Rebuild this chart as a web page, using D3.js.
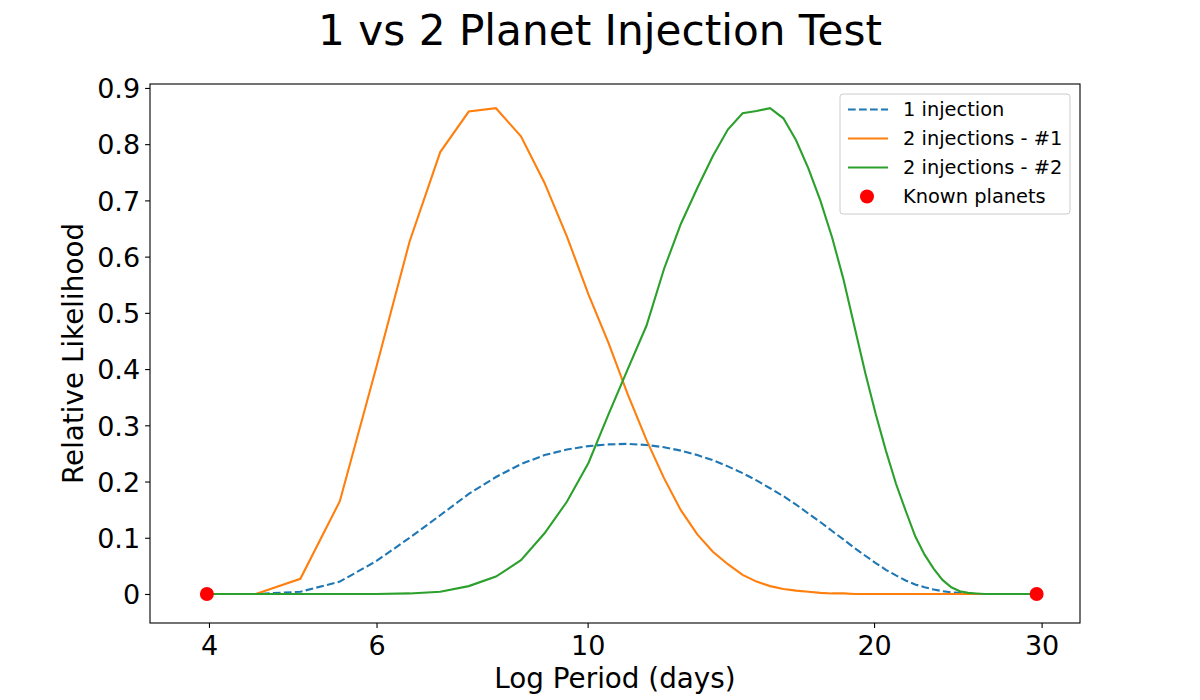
<!DOCTYPE html>
<html>
<head>
<meta charset="utf-8">
<script src="https://cdn.jsdelivr.net/npm/d3@7"></script>
<style>
  body { margin: 0; background: #fff; }
  text { font-family: "DejaVu Sans", sans-serif; fill: #000; }
</style>
</head>
<body>
<div id="chart"></div>
<script>
// periods (days) the likelihoods were evaluated at
const periods = [3.98, 4.48, 4.99, 5.49, 5.99, 6.50, 7.00, 7.50, 8.01, 8.51, 9.01, 9.51,
  10.02, 10.52, 11.02, 11.53, 12.03, 12.53, 13.04, 13.54, 14.04, 14.55, 15.05, 15.55,
  16.06, 16.56, 17.06, 17.56, 18.07, 18.57, 19.07, 19.58, 20.08, 20.58, 21.09, 21.59,
  22.09, 22.60, 23.10, 23.60, 24.11, 24.61, 25.11, 25.62, 26.12, 26.62, 27.12, 27.63,
  28.13, 28.63, 29.14, 29.64];

const oneInjection = [0, 0, 0.004, 0.022, 0.058, 0.100, 0.140, 0.178, 0.208, 0.231, 0.247, 0.257,
  0.263, 0.266, 0.267, 0.265, 0.261, 0.255, 0.247, 0.238, 0.227, 0.215, 0.202, 0.188,
  0.174, 0.159, 0.143, 0.128, 0.112, 0.097, 0.082, 0.068, 0.055, 0.043, 0.033, 0.024,
  0.017, 0.012, 0.008, 0.005, 0.003, 0.002, 0.001, 0, 0, 0, 0, 0,
  0, 0, 0, 0];

const twoInjections1 = [0, 0, 0.027, 0.165, 0.400, 0.627, 0.786, 0.858, 0.864, 0.814, 0.731, 0.636,
  0.533, 0.446, 0.355, 0.274, 0.206, 0.149, 0.106, 0.075, 0.053, 0.034, 0.022, 0.014,
  0.009, 0.006, 0.004, 0.002, 0.001, 0.001, 0, 0, 0, 0, 0, 0,
  0, 0, 0, 0, 0, 0, 0, 0, 0, 0, 0, 0,
  0, 0, 0, 0];

const twoInjections2 = [0, 0, 0, 0, 0, 0.001, 0.004, 0.014, 0.031, 0.060, 0.108, 0.164,
  0.233, 0.320, 0.400, 0.477, 0.578, 0.658, 0.722, 0.779, 0.826, 0.855, 0.859, 0.864,
  0.846, 0.807, 0.757, 0.700, 0.634, 0.560, 0.476, 0.393, 0.320, 0.255, 0.196, 0.148,
  0.103, 0.070, 0.045, 0.025, 0.012, 0.005, 0.002, 0.001, 0, 0, 0, 0,
  0, 0, 0, 0];

const knownPlanets = [3.98, 29.64];

const xTicks = [4, 6, 10, 20, 30];
const yTicks = [0, 0.1, 0.2, 0.3, 0.4, 0.5, 0.6, 0.7, 0.8, 0.9];

const seriesNames = ["1 injection", "2 injections - #1", "2 injections - #2"];
const seriesColors = ["#1f77b4", "#ff7f0e", "#2ca02c"];
const seriesDash = ["7.7,3.3", null, null];

const width = 1200, height = 700;
const plotL = 150, plotR = 1080, plotT = 84, plotB = 623;

const svg = d3.select("#chart").append("svg")
    .attr("width", width)
    .attr("height", height);

const x = d3.scaleLog()
    .domain([3.468, 32.92])
    .range([plotL, plotR]);

const y = d3.scaleLinear()
    .domain([-0.0516, 0.907])
    .range([plotB, plotT]);

// axes
const xAxis = svg.append("g")
    .attr("transform", `translate(0,${plotB})`)
    .call(d3.axisBottom(x).tickValues(xTicks).tickFormat(d3.format("d"))
        .tickSize(4.9).tickPadding(5));
xAxis.select(".domain").remove();
xAxis.selectAll("line").attr("stroke", "#000").attr("stroke-width", 1.1);
xAxis.selectAll("text").attr("font-size", "27px").attr("font-family", "DejaVu Sans")
    .attr("dy", "0.8em");

const yAxis = svg.append("g")
    .attr("transform", `translate(${plotL},0)`)
    .call(d3.axisLeft(y).tickValues(yTicks).tickFormat(d => d === 0 ? "0" : d.toFixed(1))
        .tickSize(4.9).tickPadding(5));
yAxis.select(".domain").remove();
yAxis.selectAll("line").attr("stroke", "#000").attr("stroke-width", 1.1);
yAxis.selectAll("text").attr("font-size", "27px").attr("font-family", "DejaVu Sans")
    .attr("dy", "0.36em");

// series
const allSeries = [oneInjection, twoInjections1, twoInjections2];

const line = d3.line()
    .x((d, i) => x(periods[i]))
    .y(d => y(d));

allSeries.forEach((vals, k) => {
    svg.append("path")
        .datum(vals)
        .attr("d", line)
        .attr("fill", "none")
        .attr("stroke", seriesColors[k])
        .attr("stroke-width", 2.1)
        .attr("stroke-dasharray", seriesDash[k]);
});

svg.selectAll("circle.planet")
    .data(knownPlanets)
    .enter().append("circle")
    .attr("class", "planet")
    .attr("cx", d => x(d))
    .attr("cy", y(0))
    .attr("r", 7)
    .attr("fill", "#ff0000");

// frame
svg.append("rect")
    .attr("x", plotL).attr("y", plotT)
    .attr("width", plotR - plotL).attr("height", plotB - plotT)
    .attr("fill", "none")
    .attr("stroke", "#000")
    .attr("stroke-width", 1.1);

// legend
const legend = svg.append("g");
legend.append("rect")
    .attr("x", 840).attr("y", 94)
    .attr("width", 230).attr("height", 120)
    .attr("rx", 3)
    .attr("fill", "#fff").attr("fill-opacity", 0.8)
    .attr("stroke", "#cccccc").attr("stroke-width", 1);

const rowY = [109.5, 138.5, 167.5, 196.5];
seriesNames.forEach((name, k) => {
    legend.append("line")
        .attr("x1", 848).attr("x2", 888)
        .attr("y1", rowY[k]).attr("y2", rowY[k])
        .attr("stroke", seriesColors[k])
        .attr("stroke-width", 2.1)
        .attr("stroke-dasharray", seriesDash[k]);
    legend.append("text")
        .attr("x", 903).attr("y", rowY[k])
        .attr("dy", "0.36em")
        .attr("font-size", "19.4px")
        .text(name);
});
legend.append("circle")
    .attr("cx", 867).attr("cy", rowY[3])
    .attr("r", 7).attr("fill", "#ff0000");
legend.append("text")
    .attr("x", 903).attr("y", rowY[3])
    .attr("dy", "0.36em")
    .attr("font-size", "19.4px")
    .text("Known planets");

// labels
svg.append("text")
    .attr("x", 600).attr("y", 45)
    .attr("text-anchor", "middle")
    .attr("font-size", "42.2px")
    .text("1 vs 2 Planet Injection Test");

svg.append("text")
    .attr("x", (plotL + plotR) / 2).attr("y", 688)
    .attr("text-anchor", "middle")
    .attr("font-size", "27.8px")
    .text("Log Period (days)");

svg.append("text")
    .attr("transform", `translate(83,${(plotT + plotB) / 2}) rotate(-90)`)
    .attr("text-anchor", "middle")
    .attr("font-size", "27.8px")
    .text("Relative Likelihood");
</script>
</body>
</html>
